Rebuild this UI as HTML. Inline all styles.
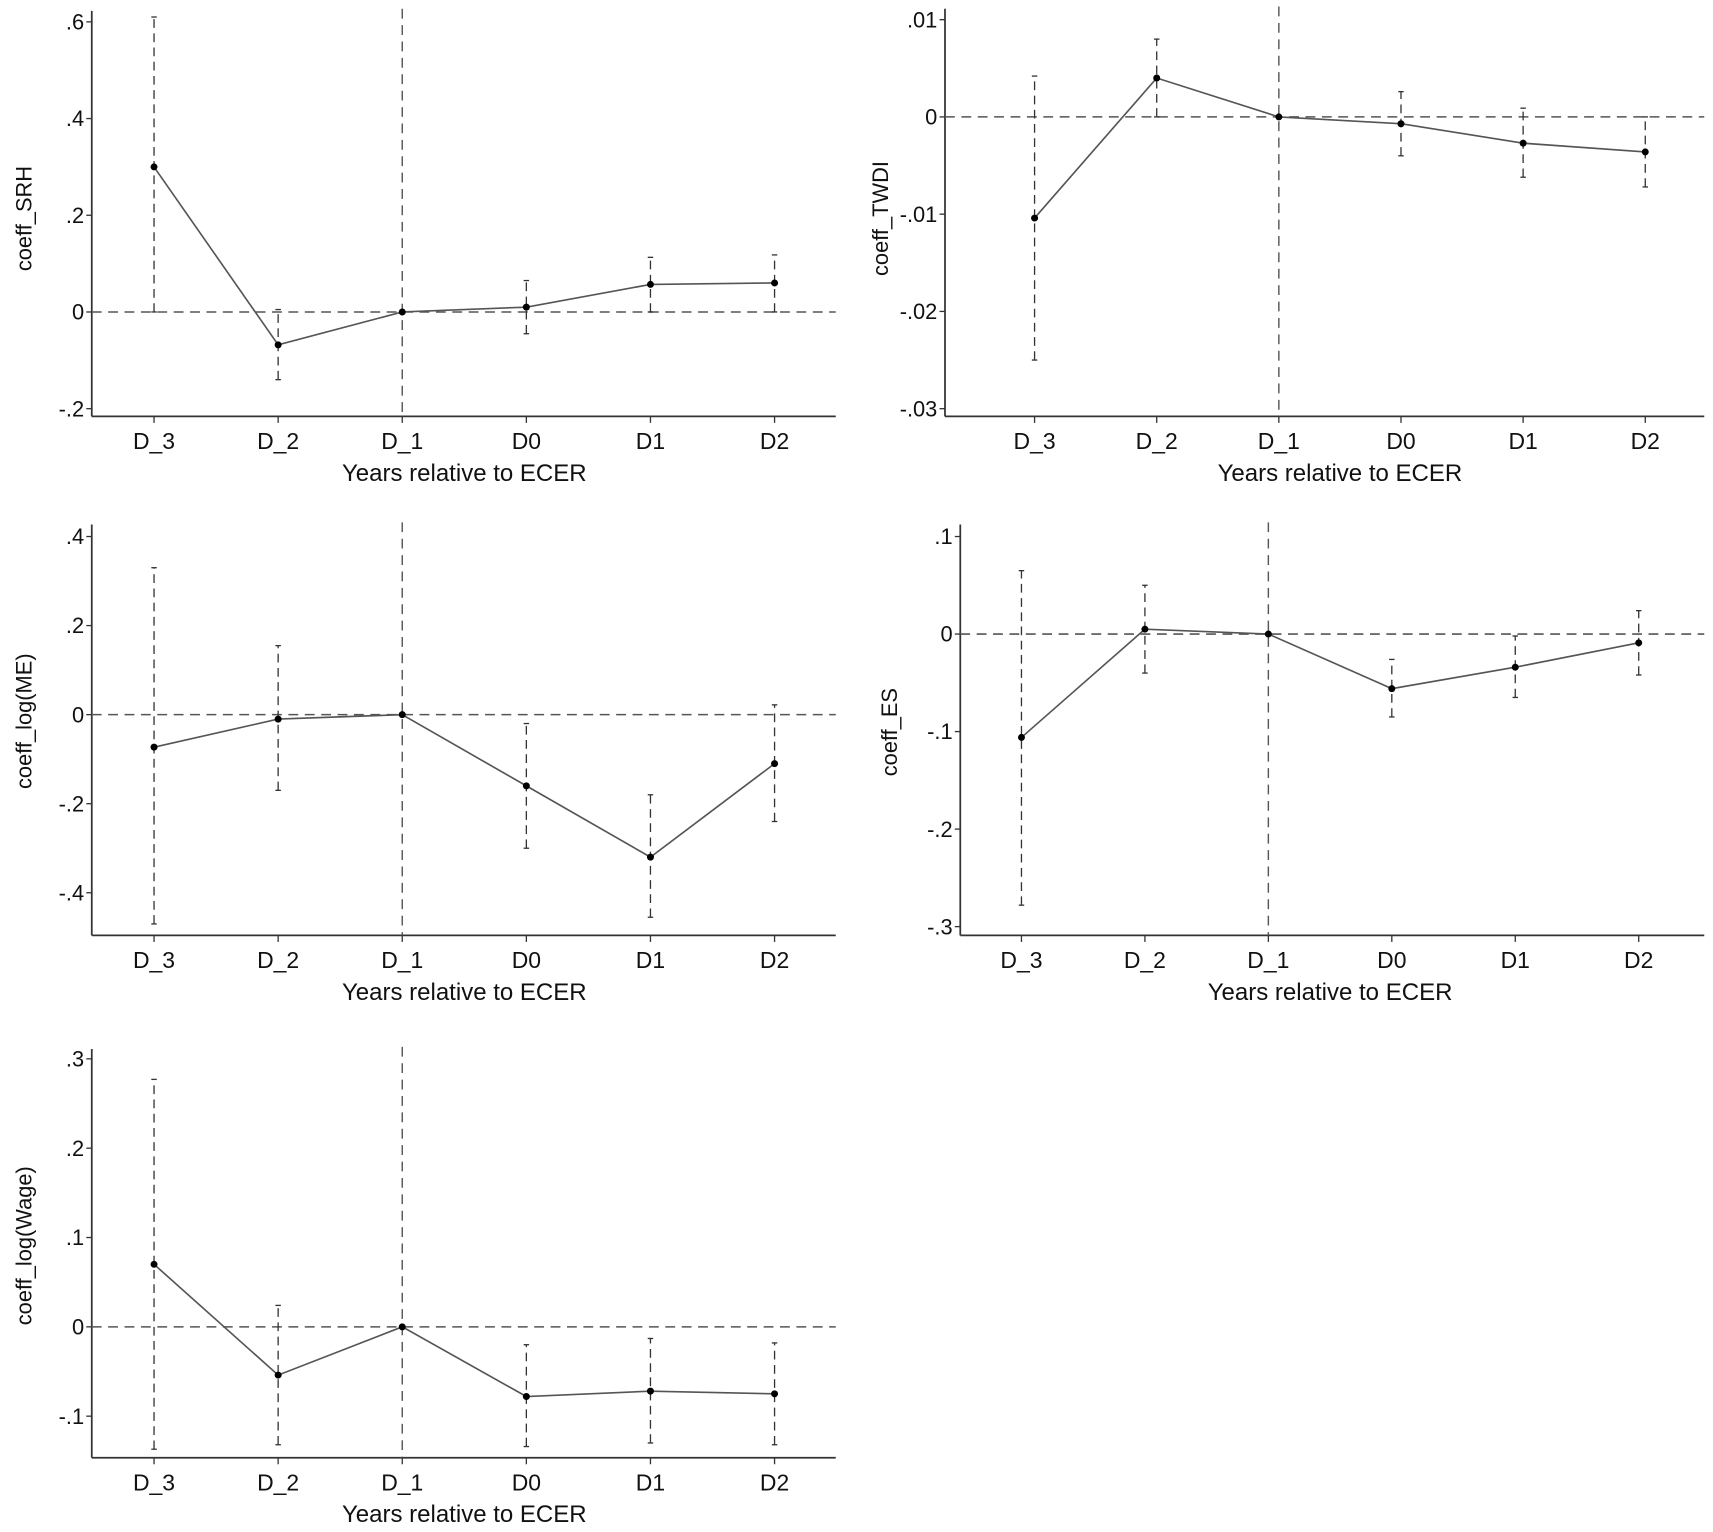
<!DOCTYPE html>
<html><head><meta charset="utf-8"><style>
html,body{margin:0;padding:0;background:#fff;}
svg{display:block;font-family:"Liberation Sans",Arial,sans-serif;}
</style></head>
<body>
<svg id="chart" width="1713" height="1532" viewBox="0 0 1568 1402" preserveAspectRatio="none" xmlns="http://www.w3.org/2000/svg"></svg>
<script>
const categories = ["D_3","D_2","D_1","D0","D1","D2"];
const srhCoef = [0.30,-0.068,0,0.010,0.057,0.060];
const srhLo = [0,-0.14,0,-0.045,0,0];
const srhHi = [0.61,0.005,0,0.065,0.113,0.118];
const srhTicks = [0.6,0.4,0.2,0,-0.2];
const srhTickLabels = [".6",".4",".2","0","-.2"];
const twdiCoef = [-0.0104,0.0040,0,-0.0007,-0.0027,-0.0036];
const twdiLo = [-0.025,0,0,-0.004,-0.0062,-0.0072];
const twdiHi = [0.0042,0.0080,0,0.0026,0.0009,0];
const twdiTicks = [0.01,0,-0.01,-0.02,-0.03];
const twdiTickLabels = [".01","0","-.01","-.02","-.03"];
const meCoef = [-0.073,-0.010,0,-0.160,-0.320,-0.110];
const meLo = [-0.47,-0.17,0,-0.30,-0.455,-0.24];
const meHi = [0.33,0.155,0,-0.02,-0.18,0.022];
const meTicks = [0.4,0.2,0,-0.2,-0.4];
const meTickLabels = [".4",".2","0","-.2","-.4"];
const esCoef = [-0.106,0.005,0,-0.056,-0.034,-0.009];
const esLo = [-0.278,-0.040,0,-0.085,-0.065,-0.042];
const esHi = [0.065,0.050,0,-0.026,-0.002,0.024];
const esTicks = [0.1,0,-0.1,-0.2,-0.3];
const esTickLabels = [".1","0","-.1","-.2","-.3"];
const wageCoef = [0.070,-0.054,0,-0.078,-0.072,-0.075];
const wageLo = [-0.137,-0.132,0,-0.134,-0.130,-0.132];
const wageHi = [0.277,0.024,0,-0.020,-0.013,-0.018];
const wageTicks = [0.3,0.2,0.1,0,-0.1];
const wageTickLabels = [".3",".2",".1","0","-.1"];

const NS="http://www.w3.org/2000/svg";
const svg=document.getElementById('chart');
function mk(tag,attrs,parent){const e=document.createElementNS(NS,tag);for(const k in attrs)e.setAttribute(k,attrs[k]);(parent||svg).appendChild(e);return e;}

const panels=[
 {key:"srh",title:"coeff_SRH",coef:srhCoef,lo:srhLo,hi:srhHi,ticks:srhTicks,labels:srhTickLabels,
  ax:84,right:765,top:10,bottom:381,v0:0.6,y0:20,v1:-0.2,y1:374,c0:141,c5:709,titleX:22,titleY:200},
 {key:"twdi",title:"coeff_TWDI",coef:twdiCoef,lo:twdiLo,hi:twdiHi,ticks:twdiTicks,labels:twdiTickLabels,
  ax:865,right:1560,top:8,bottom:381,v0:0.01,y0:18,v1:-0.03,y1:374,c0:947,c5:1506,titleX:806,titleY:200},
 {key:"me",title:"coeff_log(ME)",coef:meCoef,lo:meLo,hi:meHi,ticks:meTicks,labels:meTickLabels,
  ax:84,right:765,top:480,bottom:856,v0:0.4,y0:491,v1:-0.4,y1:817,c0:141,c5:709,titleX:22,titleY:660},
 {key:"es",title:"coeff_ES",coef:esCoef,lo:esLo,hi:esHi,ticks:esTicks,labels:esTickLabels,
  ax:879,right:1560,top:480,bottom:856,v0:0.1,y0:491,v1:-0.3,y1:848,c0:935,c5:1500,titleX:814,titleY:670},
 {key:"wage",title:"coeff_log(Wage)",coef:wageCoef,lo:wageLo,hi:wageHi,ticks:wageTicks,labels:wageTickLabels,
  ax:84,right:765,top:960,bottom:1334,v0:0.3,y0:969,v1:-0.1,y1:1296,c0:141,c5:709,titleX:22,titleY:1140}
];

panels.forEach(p=>{
  const g=mk('g',{});
  
  
  const yS=v=>p.y0+(v-p.v0)*(p.y1-p.y0)/(p.v1-p.v0);
  const xS=i=>p.c0+i*(p.c5-p.c0)/(categories.length-1);
  const ya=mk('line',{x1:p.ax,y1:p.top,x2:p.ax,y2:p.bottom,stroke:'#333','stroke-width':1.6},g);
  
  
  const xa=mk('line',{x1:p.ax,y1:p.bottom,x2:p.right,y2:p.bottom,stroke:'#333','stroke-width':1.6},g);
  
  
  p.ticks.forEach((t,i)=>{
    const y=yS(t);
    mk('line',{x1:p.ax-5,y1:y,x2:p.ax,y2:y,stroke:'#333','stroke-width':1.2},g);
    const tx=mk('text',{x:p.ax-7,y:y+7,'text-anchor':'end','font-size':20,fill:'#111'},g);
    tx.textContent=p.labels[i];
    
    
  });
  categories.forEach((c,i)=>{
    const x=xS(i);
    mk('line',{x1:x,y1:p.bottom,x2:x,y2:p.bottom+6,stroke:'#333','stroke-width':1.2},g);
    const tx=mk('text',{x:x,y:p.bottom+30,'text-anchor':'middle','font-size':21,fill:'#111'},g);
    tx.textContent=c;
    
    
  });
  const xt=mk('text',{x:(p.c0+p.c5)/2,y:p.bottom+59,'text-anchor':'middle','font-size':22,fill:'#111'},g);
  xt.textContent='Years relative to ECER';
  
  
  const yt=mk('text',{x:0,y:0,'text-anchor':'middle','font-size':20,fill:'#111',transform:`translate(${p.titleX+7},${p.titleY}) rotate(-90)`},g);
  yt.textContent=p.title;
  
  
  const hz=mk('line',{x1:p.ax,y1:yS(0),x2:p.right,y2:yS(0),stroke:'#555','stroke-width':1.4,'stroke-dasharray':'9,6'},g);
  
  
  const vx=mk('line',{x1:xS(2),y1:p.top-2,x2:xS(2),y2:p.bottom,stroke:'#555','stroke-width':1.3,'stroke-dasharray':'9,6'},g);
  
  
  categories.forEach((c,i)=>{
    if(p.lo[i]===p.hi[i]) return;
    const x=xS(i);
    const eb=mk('line',{x1:x,y1:yS(p.lo[i]),x2:x,y2:yS(p.hi[i]),stroke:'#333','stroke-width':1.2,'stroke-dasharray':'8,5'},g);
    
    
    [p.lo[i],p.hi[i]].forEach(v=>mk('line',{x1:x-2.5,y1:yS(v),x2:x+2.5,y2:yS(v),stroke:'#333','stroke-width':1.2},g));
  });
  const pts=categories.map((c,i)=>xS(i)+','+yS(p.coef[i])).join(' ');
  const pl=mk('polyline',{points:pts,fill:'none',stroke:'#555','stroke-width':1.5},g);
  
  
  categories.forEach((c,i)=>{
    const ci=mk('circle',{cx:xS(i),cy:yS(p.coef[i]),r:3.2,fill:'#000'},g);
    
    
  });
});
</script>
</body></html>
